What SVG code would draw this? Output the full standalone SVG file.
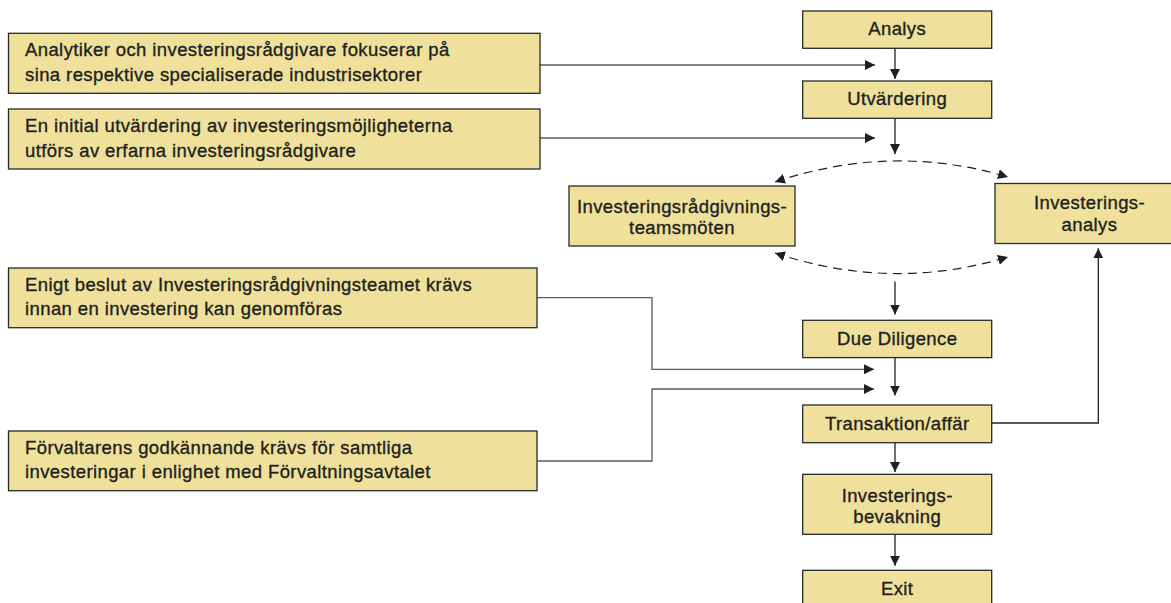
<svg xmlns="http://www.w3.org/2000/svg" width="1171" height="603" viewBox="0 0 1171 603">
<style>
.box{fill:#efe19c;stroke:#2b2a29;stroke-width:1.3}
.t{font-family:"Liberation Sans",Arial,sans-serif;font-size:18.5px;fill:#231f20;stroke:#231f20;stroke-width:0.35;letter-spacing:0.4px}
.c{text-anchor:middle}
.ln{fill:none;stroke:#231f20;stroke-width:1.3}
.gl{fill:none;stroke:#5a5a5a;stroke-width:1.3}
.ds{fill:none;stroke:#231f20;stroke-width:1.2;stroke-dasharray:9 6}
</style>
<defs>
<marker id="ah" viewBox="0 0 10 10" refX="10" refY="5" markerWidth="10" markerHeight="10" markerUnits="userSpaceOnUse" orient="auto-start-reverse">
<path d="M0,0 L10,5 L0,10 z" fill="#231f20"/>
</marker>
</defs>
<g id="connectors">
<path class="ln" d="M895,48.5 V79" marker-end="url(#ah)"/>
<path class="ln" d="M895,118.5 V154" marker-end="url(#ah)"/>
<path class="gl" d="M540,65 H875" marker-end="url(#ah)"/>
<path class="gl" d="M540,138 H875" marker-end="url(#ah)"/>
<path class="ds" d="M775,182 Q892,142.5 1008,177" marker-start="url(#ah)" marker-end="url(#ah)"/>
<path class="ds" d="M775,253 Q892,292 1008,257" marker-start="url(#ah)" marker-end="url(#ah)"/>
<path class="ln" d="M895,281.5 V314.5" marker-end="url(#ah)"/>
<path class="ln" d="M895,357.5 V395.5" marker-end="url(#ah)"/>
<path class="gl" d="M537,297.7 H652 V369.3 H874" marker-end="url(#ah)"/>
<path class="gl" d="M537,461 H652 V389 H874" marker-end="url(#ah)"/>
<path class="ln" d="M991.7,423 H1098.3 V248.3" marker-end="url(#ah)"/>
<path class="ln" d="M895,442.7 V472" marker-end="url(#ah)"/>
<path class="ln" d="M895,534.3 V565.7" marker-end="url(#ah)"/>
</g>
<g id="note1">
<rect class="box" x="8.5" y="33.3" width="531.5" height="60"/>
<text class="t" x="25" y="56">Analytiker och investeringsrådgivare fokuserar på</text>
<text class="t" x="25" y="81">sina respektive specialiserade industrisektorer</text>
</g>
<g id="note2">
<rect class="box" x="8.5" y="109" width="531.5" height="60"/>
<text class="t" x="25" y="132">En initial utvärdering av investeringsmöjligheterna</text>
<text class="t" x="25" y="157">utförs av erfarna investeringsrådgivare</text>
</g>
<g id="note3">
<rect class="box" x="8.5" y="268" width="528.5" height="59.7"/>
<text class="t" x="25" y="291">Enigt beslut av Investeringsrådgivningsteamet krävs</text>
<text class="t" x="25" y="315">innan en investering kan genomföras</text>
</g>
<g id="note4">
<rect class="box" x="8.5" y="431" width="528.5" height="59.7"/>
<text class="t" x="25" y="454">Förvaltarens godkännande krävs för samtliga</text>
<text class="t" x="25" y="478">investeringar i enlighet med Förvaltningsavtalet</text>
</g>
<g id="analys">
<rect class="box" x="802.7" y="11" width="189" height="37.3"/>
<text class="t c" x="897.2" y="35">Analys</text>
</g>
<g id="utvardering">
<rect class="box" x="802.7" y="81" width="189" height="37.3"/>
<text class="t c" x="897.2" y="105.3">Utvärdering</text>
</g>
<g id="teammoten">
<rect class="box" x="569" y="186" width="226" height="60"/>
<text class="t c" x="682" y="212.7">Investeringsrådgivnings-</text>
<text class="t c" x="682" y="234">teamsmöten</text>
</g>
<g id="invanalys">
<rect class="box" x="995" y="183.5" width="190" height="60"/>
<text class="t c" x="1089.5" y="209">Investerings-</text>
<text class="t c" x="1089.5" y="231">analys</text>
</g>
<g id="duediligence">
<rect class="box" x="802.7" y="320.3" width="189" height="37.3"/>
<text class="t c" x="897.2" y="345">Due Diligence</text>
</g>
<g id="transaktion">
<rect class="box" x="802.7" y="405" width="189" height="37.7"/>
<text class="t c" x="897.2" y="430">Transaktion/affär</text>
</g>
<g id="bevakning">
<rect class="box" x="802.7" y="474.3" width="189" height="60"/>
<text class="t c" x="897.2" y="501.7">Investerings-</text>
<text class="t c" x="897.2" y="523.3">bevakning</text>
</g>
<g id="exit">
<rect class="box" x="802.7" y="570.3" width="189" height="40"/>
<text class="t c" x="897.2" y="595">Exit</text>
</g>
</svg>
